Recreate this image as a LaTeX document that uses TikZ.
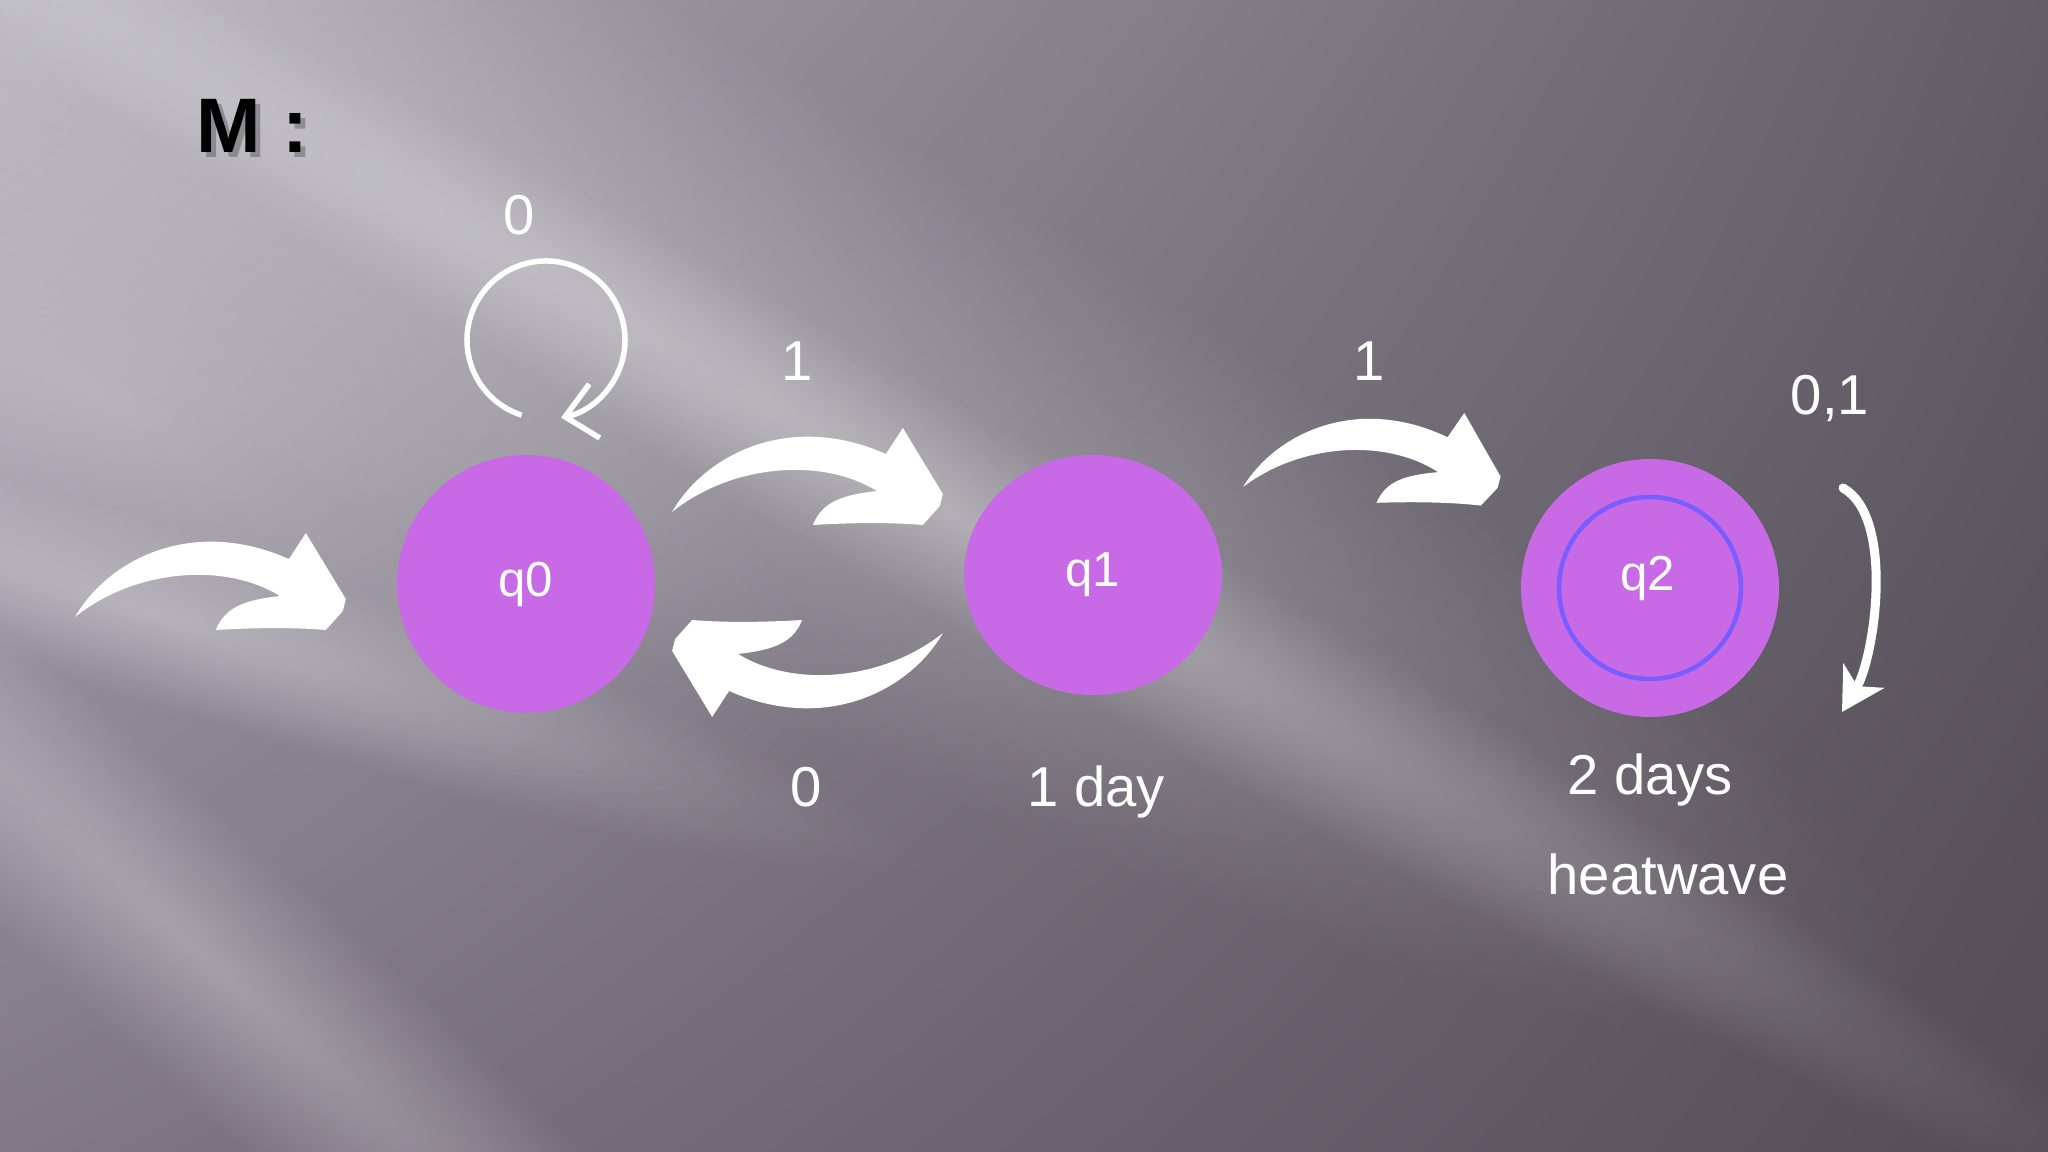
\documentclass[tikz,border=0pt]{standalone}
\usepackage{fontspec}
\setmainfont{Liberation Sans}
\usetikzlibrary{arrows.meta,shapes.geometric,shadings,fadings}
\definecolor{stateviolet}{RGB}{200,106,230}
\definecolor{ringblue}{RGB}{122,92,255}
\definecolor{bgtl}{RGB}{176,173,184}
\definecolor{bgtr}{RGB}{98,94,102}
\definecolor{bgbl}{RGB}{128,120,134}
\definecolor{bgbr}{RGB}{84,76,86}
\tikzfading[name=streakfade, inner color=transparent!72, outer color=transparent!100]
\begin{document}
\begin{tikzpicture}[
        state/.style={circle, fill=stateviolet, minimum size=2.58cm, inner sep=0pt, text=white, font=\fontsize{14}{16}\selectfont},
        lbl/.style={text=white, font=\fontsize{16}{19}\selectfont, inner sep=0pt},
        title/.style={font=\fontsize{22}{26}\selectfont\bfseries, inner sep=0pt},
        loopline/.style={white, line width=0.055cm, -{Straight Barb[length=0.3cm, width=0.55cm]}},
        stayline/.style={white, line width=0.09cm, line cap=round, -{Stealth[length=0.42cm, width=0.47cm, inset=0.12cm]}},
        bentarrow/.pic={
            \fill[white, x=0.01cm, y=0.01cm] (0,0) .. controls (35,60) and (120,100) .. (214,58)
                -- (231,84) -- (271,18) -- (268,6) -- (251,-13)
                .. controls (215,-10) and (175,-11) .. (141,-13)
                .. controls (150,10) and (170,17) .. (205,21)
                .. controls (150,55) and (60,48) .. (0,0) -- cycle;
        }]
        \useasboundingbox (0,0) rectangle (20.48,11.52);
        \shade[upper left=bgtl, upper right=bgtr, lower left=bgbl, lower right=bgbr] (0,0) rectangle (20.48,11.52);

        \foreach \cx/\cy/\ang/\rx/\ry in {5.0/9.0/-28/16/3.0, 9.5/6.4/-30/14/1.0, 1.5/5.4/-18/8/0.9, 2.0/2.0/-42/10/1.2, 1.0/7.6/-25/8/2.6}
        {
            \begin{scope}[transform canvas={rotate around={\ang:(\cx,\cy)}}]
                \fill[white, path fading=streakfade] (\cx,\cy) ellipse[x radius=\rx, y radius=\ry];
            \end{scope}
        }

        \node[title, anchor=base west, text=black, opacity=0.25] at (2.01,9.94) {M :};
        \node[title, anchor=base west] (mtitle) at (1.96,9.99) {M :};

        \node[state] (q0) at (5.26,5.68) {q0};
        \node[state, ellipse, minimum height=2.40cm] (q1) at (10.93,5.77) {q1};
        \node[state] (q2) at (16.50,5.64) {};
        \draw[ringblue, line width=0.045cm] (q2.center) circle[radius=0.91];
        \node[text=white, font=\fontsize{14}{16}\selectfont, inner sep=0pt] (q2text) at (16.48,5.74) {q2};

        \pic at (0.75,5.35) {bentarrow};
        \pic at (6.72,6.40) {bentarrow};
        \pic[rotate=180] at (9.43,5.19) {bentarrow};
        \pic[scale=0.95, rotate=-1.5] at (12.43,6.65) {bentarrow};

        \coordinate (loopc) at (5.46,8.12);
        \draw[loopline] ([shift={(252:0.79)}]loopc) arc[start angle=252, end angle=-79, radius=0.79];

        \coordinate (staytop) at (18.43,6.64);
        \coordinate (staybot) at (18.42,4.40);
        \draw[stayline] (staytop) .. controls (18.95,6.35) and (18.75,4.95) .. (staybot);

        \node[lbl, anchor=base] (lblloop) at (5.19,9.17) {0};
        \node[lbl, anchor=base] (lblup) at (7.97,7.71) {1};
        \node[lbl, anchor=base] (lbldown) at (8.06,3.45) {0};
        \node[lbl, anchor=base] (lblnext) at (13.69,7.71) {1};
        \node[lbl, anchor=base] (lblstay) at (18.30,7.37) {0,1};
        \node[lbl, anchor=base] (day1) at (10.96,3.45) {1 day};
        \node[lbl, anchor=base] (day2) at (16.50,3.57) {2 days};
        \node[lbl, anchor=base] (heat) at (16.68,2.57) {heatwave};
    \end{tikzpicture}
\end{document}
